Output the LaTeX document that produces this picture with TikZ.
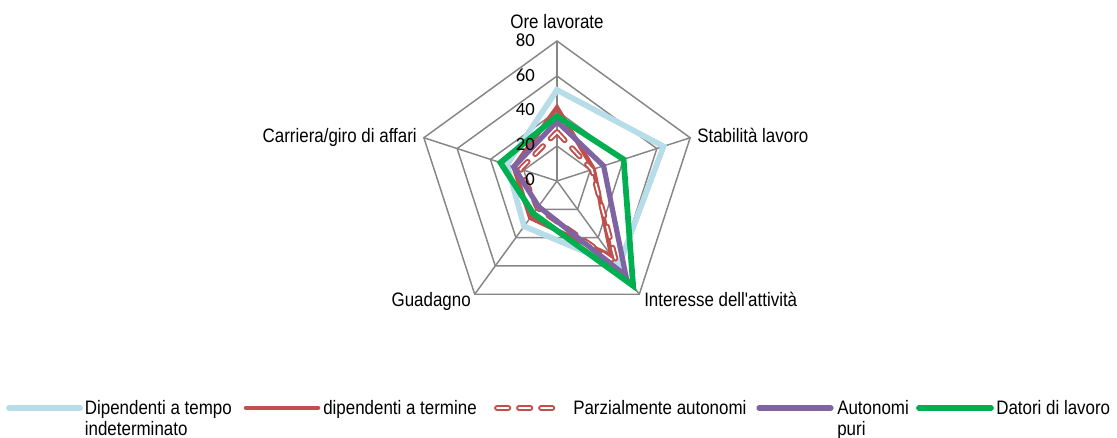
\documentclass[tikz,border=0pt]{standalone}
\usepackage{fontspec}
\setmainfont{Liberation Sans}[FakeStretch=0.87,Ligatures=TeXOff]
\newfontfamily\tickfont{Carlito}
\definecolor{gridgray}{HTML}{868686}
\definecolor{seriesblue}{HTML}{B7DDE8}
\definecolor{seriesred}{HTML}{C0504D}
\definecolor{seriespurple}{HTML}{8064A2}
\definecolor{seriesgreen}{HTML}{00B050}
\tikzset{
	gridline/.style={draw=gridgray,line width=1.1pt},
	catlabel/.style={inner sep=0pt,font=\fontsize{14.6}{15.75}\selectfont},
	ticklabel/.style={inner sep=0pt,anchor=east,font=\tickfont\fontsize{14}{14}\selectfont},
	legtext/.style={inner sep=0pt,anchor=north west,align=left,font=\fontsize{14.6}{15.75}\selectfont},
	tempoind/.style={draw=seriesblue,line width=4.3pt,line cap=round},
	termine/.style={draw=seriesred,line width=3.4pt,line cap=round},
	parzauto/.style={draw=seriesred,line width=1.5pt,double=white,double distance=1.3pt,line cap=round,dash pattern=on 8.5pt off 8pt},
	autopuri/.style={draw=seriespurple,line width=3.9pt,line cap=round},
	datori/.style={draw=seriesgreen,line width=4.3pt,line cap=round}
}

\begin{document}
\begin{tikzpicture}[x=0.75pt,y=-0.75pt]
		\useasboundingbox (0,0) rectangle (1117,438);
		\begin{scope}[shift={(417.75pt,-135.75pt)},x=1.3125pt,y=1.3125pt]
			\foreach \r in {20,40,60,80}{
				\draw[gridline] (90:\r) -- (18:\r) -- (-54:\r) -- (-126:\r) -- (162:\r) -- cycle;
			}
			\foreach \a in {90,18,-54,-126,162}{
				\draw[gridline] (0,0) -- (\a:80);
			}
			\draw[tempoind] (90:52) -- (18:64) -- (-54:60) -- (-126:32) -- (162:30) -- cycle;
			\draw[termine] (90:42) -- (18:22) -- (-54:53) -- (-126:26) -- (162:26) -- cycle;
			\draw[parzauto] (90:28) -- (18:21) -- (-54:58) -- (-126:19) -- (162:22) -- cycle;
			\draw[autopuri] (90:34) -- (18:28) -- (-54:67) -- (-126:18) -- (162:26) -- cycle;
			\draw[datori] (90:37) -- (18:40) -- (-54:74) -- (-126:23) -- (162:34) -- cycle;
			\foreach \r in {0,20,...,80}{
				\node[ticklabel] (t\r) at (-12.5,\r+0.6) {\r};
			}
		\end{scope}
		\node[catlabel,anchor=base] (ore) at (557,29) {Ore lavorate};
		\node[catlabel,anchor=base west] (stab) at (697,143) {Stabilità lavoro};
		\node[catlabel,anchor=base west] (inter) at (644,306.5) {Interesse dell'attività};
		\node[catlabel,anchor=base east] (guad) at (471,306.5) {Guadagno};
		\node[catlabel,anchor=base east] (carr) at (417,142.7) {Carriera/giro di affari};
		% legenda
		\draw[tempoind] (9,408) -- (80,408);
		\node[legtext] (legtempo) at (84.6,400.5) {Dipendenti a tempo\\indeterminato};
		\draw[termine] (246,408) -- (318,408);
		\node[legtext] (legtermine) at (323,400.5) {dipendenti a termine};
		\draw[parzauto] (497,408) -- (556,408);
		\node[legtext] (legparz) at (573,400.5) {Parzialmente autonomi};
		\draw[autopuri] (759,408) -- (831,408);
		\node[legtext] (legauto) at (837,400.5) {Autonomi\\puri};
		\draw[datori] (919,408) -- (991,408);
		\node[legtext] (legdatori) at (996,400.5) {Datori di lavoro};
	\end{tikzpicture}
\end{document}
